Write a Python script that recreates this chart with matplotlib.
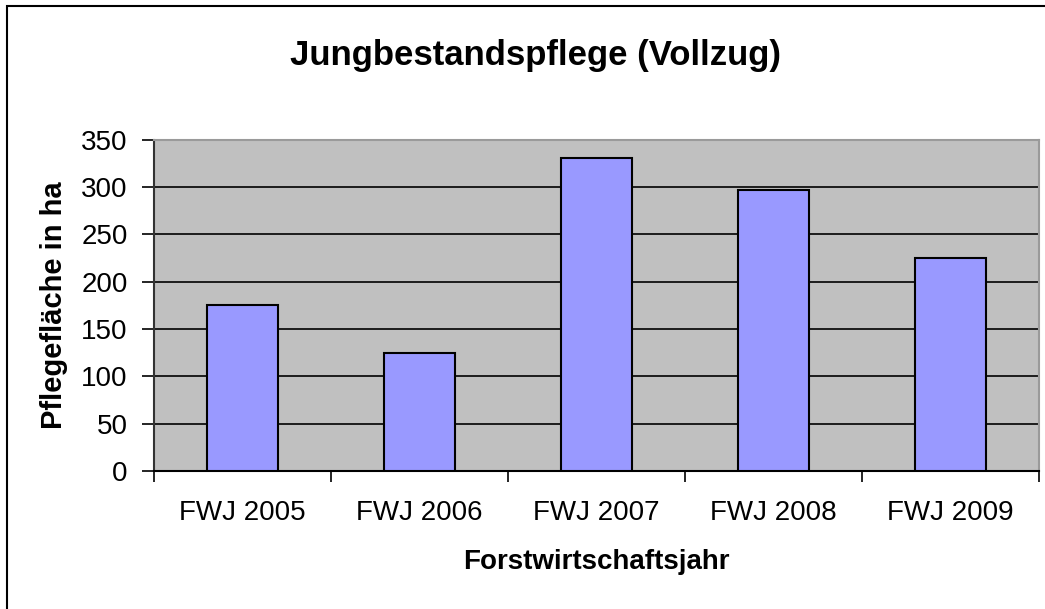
import numpy as np
import matplotlib
matplotlib.use("Agg")
import matplotlib.pyplot as plt
from matplotlib.patches import Rectangle

plt.rcParams['font.family'] = ['Liberation Sans', 'DejaVu Sans']

years = ["FWJ 2005", "FWJ 2006", "FWJ 2007", "FWJ 2008", "FWJ 2009"]
area_ha = [175, 125, 330, 297, 225]

W, H = 1045, 609
fig = plt.figure(figsize=(W / 100, H / 100), dpi=100)
ax = fig.add_axes([154 / W, 1 - 471 / H, (1039 - 154) / W, (471 - 139.5) / H])
ax_h = (471 - 139.5)

x = np.arange(len(years))
ax.set_facecolor("#c0c0c0")
ax.bar(x, area_ha, width=0.4, color="#9999ff", edgecolor="black", linewidth=1.5, zorder=3)

ax.set_xlim(-0.5, len(years) - 0.5)
ax.set_ylim(0, 350)
ax.set_yticks(np.arange(0, 351, 50))
ax.yaxis.grid(True, color="black", linewidth=1.2, zorder=1)
ax.set_axisbelow(True)

# category labels in the middle, tick marks on the boundaries
ax.set_xticks(x)
ax.set_xticklabels(years, fontsize=20)
ax.tick_params(axis="x", which="major", length=0, pad=21)
ax.set_xticks(np.arange(-0.5, len(years)), minor=True)
ax.tick_params(axis="x", which="minor", length=8, width=1.2, direction="out")
ax.tick_params(axis="y", labelsize=20, length=9, width=1.2, pad=10)

for s in ("top", "right"):
    ax.spines[s].set_color("#9a9a9a")
    ax.spines[s].set_linewidth(1.5)
ax.spines["left"].set_color("#333333")
ax.spines["left"].set_linewidth(1.5)
ax.spines["bottom"].set_linewidth(1.5)

ax.set_xlabel("Forstwirtschaftsjahr", fontsize=20, fontweight="bold")
ax.xaxis.set_label_coords(0.5, -(549 - 471) / ax_h)
ax.set_ylabel("Pflegefläche in ha", fontsize=21, fontweight="bold")
ax.yaxis.set_label_coords(-(154 - 68) / 885, 0.5)

fig.text(536 / W, 1 - 55 / H, "Jungbestandspflege (Vollzug)", fontsize=25,
         fontweight="bold", ha="center", va="center")

# outer frame of the chart
fig.patches.append(Rectangle((7 / W, -0.1), 1.2, 1 - 5.5 / H + 0.1, transform=fig.transFigure,
                             fill=False, edgecolor="black", linewidth=1.5))

fig.savefig("out.png", dpi=100)
